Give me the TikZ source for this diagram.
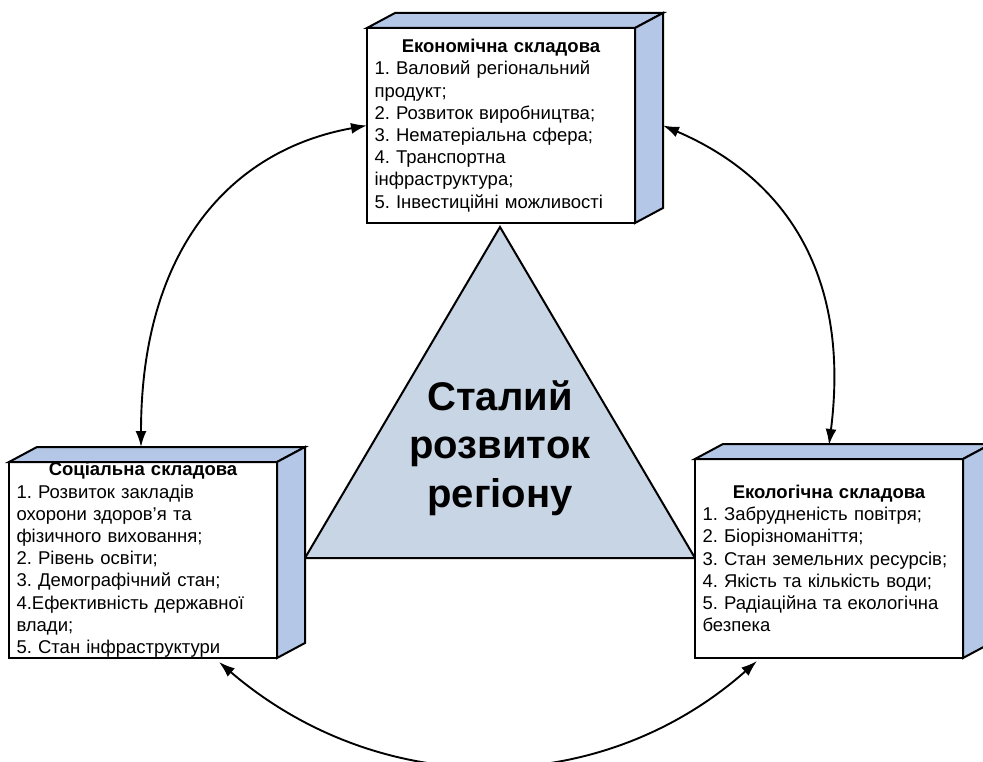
\documentclass[tikz,border=0pt]{standalone}
\usepackage{fontspec}
\setmainfont{Liberation Sans}
\usetikzlibrary{arrows.meta}
\definecolor{sideblue}{RGB}{180,199,231}
\definecolor{triblue}{RGB}{200,213,229}
\newcommand{\boxfaces}[1]{%
  \draw[face] (#1.north west) -- ([shift={(28,-15)}]#1.north west) -- ([shift={(28,-15)}]#1.north east) -- (#1.north east) -- cycle;
  \draw[face] (#1.north east) -- ([shift={(28,-15)}]#1.north east) -- ([shift={(28,-15)}]#1.south east) -- (#1.south east) -- cycle;}
\frenchspacing
\begin{document}
\begin{tikzpicture}[x=1pt,y=-1pt,
  front/.style={draw=black, line width=2pt, fill=white, minimum width=268pt, text width=253pt,
    inner xsep=7.5pt, inner ysep=0pt, outer sep=0pt, align=left, font=\fontsize{18.5}{22.2}\selectfont},
  face/.style={draw=black, line width=2pt, fill=sideblue, line join=miter},
  tri/.style={draw=black, line width=2pt, fill=triblue, line join=miter},
  bigtext/.style={align=center, font=\fontsize{40}{48.5}\selectfont\bfseries},
  link/.style={line width=1.9pt, {Latex[length=16pt,width=11pt]}-{Latex[length=16pt,width=11pt]}},
]
\useasboundingbox (0,0) rectangle (983,762);
\begin{scope}
\clip (0,0) rectangle (983,762);
% triangle
\coordinate (ta) at (500,227);
\coordinate (tr) at (695,558);
\coordinate (tl) at (305,558);
\draw[tri] (ta) -- (tr) -- (tl) -- cycle;
\node[bigtext] (core) at (500,448) {Сталий\\розвиток\\регіону};
% boxes
\node[front, minimum height=195pt] (eco) at (501,125.5) {{\centering\bfseries Економічна складова\par}1. Валовий регіональний\\продукт;\\2. Розвиток виробництва;\\3. Нематеріальна сфера;\\4. Транспортна\\інфраструктура;\\5. Інвестиційні можливості};
\boxfaces{eco}
\node[front, minimum height=196pt] (soc) at (143,560) {{\centering\bfseries Соціальна складова\par}1. Розвиток закладів\\охорони здоров’я та\\фізичного виховання;\\2. Рівень освіти;\\3. Демографічний стан;\\4.Ефективність державної\\влади;\\5. Стан інфраструктури};
\boxfaces{soc}
\node[front, minimum height=199pt] (ecol) at (829,558.5) {{\centering\bfseries Екологічна складова\par}1. Забрудненість повітря;\\2. Біорізноманіття;\\3. Стан земельних ресурсів;\\4. Якість та кількість води;\\5. Радіаційна та екологічна\\безпека};
\boxfaces{ecol}
% connectors
\draw[link] (eco.west) .. controls (230,150) and (141,250) .. ([shift={(-2,-15)}]soc.north);
\draw[link] ([shift={(28,0)}]eco.east) .. controls (790,180) and (850,280) .. ([shift={(0,-14)}]ecol.north);
\draw[link] ([shift={(76,4)}]soc.south) .. controls (380,800) and (600,800) .. ([shift={(-72,3)}]ecol.south);
\end{scope}
\end{tikzpicture}
\end{document}
